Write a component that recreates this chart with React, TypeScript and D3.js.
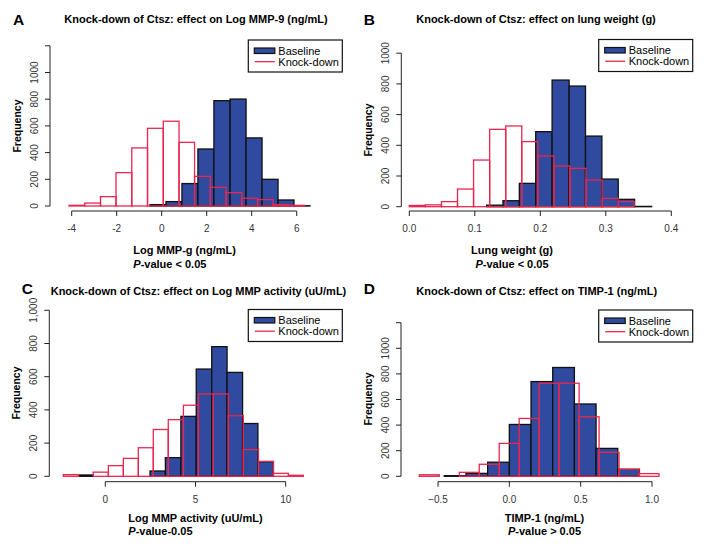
import React from 'react';
import * as d3 from 'd3';

const FONT = "'Liberation Sans', Arial, Helvetica, sans-serif";
const BLUE = '#2f4a9e';
const RED = '#e8264f';

// ---------- Data ----------
const panelLetters = ['A', 'B', 'C', 'D'];
const panelTitles = [
  'Knock-down of Ctsz: effect on Log MMP-9 (ng/mL)',
  'Knock-down of Ctsz: effect on lung weight (g)',
  'Knock-down of Ctsz: effect on Log MMP activity (uU/mL)',
  'Knock-down of Ctsz: effect on TIMP-1 (ng/mL)',
];
const xAxisLabels = ['Log MMP-g (ng/mL)', 'Lung weight (g)', 'Log MMP activity (uU/mL)', 'TIMP-1 (ng/mL)'];
const pValueTexts = ['-value < 0.05', '-value < 0.05', '-value-0.05', '-value > 0.05'];
const legendLabels = ['Baseline', 'Knock-down'];

// Panel A
const aBaseBreaks = [-0.52, 0.19, 0.9, 1.61, 2.32, 3.04, 3.75, 4.46, 5.17, 5.88, 6.59];
const aBaseCounts = [10, 33, 168, 427, 789, 801, 510, 200, 45, 2];
const aKnockBreaks = [-4.12, -3.42, -2.72, -2.03, -1.33, -0.63, 0.07, 0.77, 1.46, 2.16, 2.86, 3.56, 4.26, 4.95, 5.65, 6.35];
const aKnockCounts = [5, 22, 70, 250, 435, 582, 635, 477, 222, 140, 100, 58, 48, 10, 5];
const aXTicks = [-4, -2, 0, 2, 4, 6];
const aXTickLabels = ['-4', '-2', '0', '2', '4', '6'];
const aYTicks = [0, 200, 400, 600, 800, 1000, 1200];
const aYTickLabels = ['0', '200', '400', '600', '800', '1000', ''];

// Panel B
const bBaseBreaks = [0.118, 0.143, 0.168, 0.193, 0.218, 0.244, 0.269, 0.294, 0.319, 0.344, 0.37];
const bBaseCounts = [10, 39, 152, 489, 825, 786, 460, 180, 48, 2];
const bKnockBreaks = [0, 0.0245, 0.0491, 0.0736, 0.0981, 0.1227, 0.1472, 0.1717, 0.1962, 0.2208, 0.2453, 0.2698, 0.2944, 0.3189, 0.3434];
const bKnockCounts = [8, 12, 33, 115, 304, 504, 526, 424, 330, 265, 250, 174, 54, 33];
const bXTicks = [0, 0.1, 0.2, 0.3, 0.4];
const bXTickLabels = ['0.0', '0.1', '0.2', '0.3', '0.4'];
const bYTicks = [0, 200, 400, 600, 800, 1000];
const bYTickLabels = ['0', '200', '400', '600', '800', '1000'];

// Panel C
const cBaseBreaks = [-1.45, -0.67, 2.48, 3.33, 4.19, 5.04, 5.9, 6.75, 7.61, 8.46, 9.32];
const cBaseCounts = [8, 0, 32, 112, 361, 646, 781, 626, 318, 88];
const cKnockBreaks = [-2.33, -1.5, -0.67, 0.17, 1.0, 1.83, 2.66, 3.49, 4.33, 5.16, 5.99, 6.82, 7.65, 8.49, 9.32, 10.15, 10.98];
const cKnockCounts = [10, 0, 25, 64, 108, 172, 282, 341, 428, 496, 496, 365, 161, 90, 18, 6];
const cXTicks = [0, 5, 10];
const cXTickLabels = ['0', '5', '10'];
const cYTicks = [0, 200, 400, 600, 800, 1000];
const cYTickLabels = ['0', '200', '400', '600', '800', '1,000'];

// Panel D
const dBaseBreaks = [-0.456, -0.304, -0.152, 0, 0.152, 0.304, 0.456, 0.608, 0.76, 0.912];
const dBaseCounts = [5, 23, 110, 405, 740, 850, 565, 218, 55];
const dKnockBreaks = [-0.631, -0.491, -0.351, -0.211, -0.071, 0.069, 0.209, 0.349, 0.489, 0.629, 0.769, 0.909, 1.049];
const dKnockCounts = [12, 0, 31, 94, 257, 452, 727, 727, 465, 187, 55, 21];
const dXTicks = [-0.5, 0, 0.5, 1.0];
const dXTickLabels = ['\u22120.5', '0.0', '0.5', '1.0'];
const dYTicks = [0, 200, 400, 600, 800, 1000, 1200];
const dYTickLabels = ['0', '200', '400', '600', '800', '1000', ''];

// ---------- Layout ----------
type Layout = {
  xDomain: [number, number]; xRange: [number, number];
  yDomain: [number, number]; yRange: [number, number];
  xAxisY: number; yAxisX: number;
  letterX: number; letterY: number;
  titleX: number; titleY: number;
  labelX: number; labelAnchor: 'start' | 'middle';
  labelY: number; pY: number;
  freqY: number;
  legX: number; legY: number;
};

const layouts: Layout[] = [
  { xDomain: [-4, 6], xRange: [71.7, 296.7], yDomain: [0, 1200], yRange: [206, 45.8], xAxisY: 211, yAxisX: 50,
    letterX: 13, letterY: 24.5, titleX: 196, titleY: 23, labelX: 133.3, labelAnchor: 'start', labelY: 254, pY: 267.5, freqY: 126,
    legX: 248.3, legY: 40 },
  { xDomain: [0, 0.4], xRange: [409.3, 671.3], yDomain: [0, 1000], yRange: [206.7, 53.2], xAxisY: 211, yAxisX: 401.3,
    letterX: 363.7, letterY: 24.5, titleX: 536, titleY: 23, labelX: 512, labelAnchor: 'middle', labelY: 253.5, pY: 267.5, freqY: 130,
    legX: 598.7, legY: 39.5 },
  { xDomain: [0, 10], xRange: [105.3, 285.7], yDomain: [0, 1000], yRange: [476.3, 310.3], xAxisY: 481.7, yAxisX: 49.3,
    letterX: 21.7, letterY: 293.5, titleX: 198.5, titleY: 295, labelX: 128.3, labelAnchor: 'start', labelY: 521.5, pY: 535, freqY: 393,
    legX: 248.3, legY: 309.5 },
  { xDomain: [-0.5, 1.0], xRange: [438, 652], yDomain: [0, 1200], yRange: [476.3, 322.7], xAxisY: 481.7, yAxisX: 401,
    letterX: 363.7, letterY: 293.5, titleX: 536.7, titleY: 295, labelX: 544.5, labelAnchor: 'middle', labelY: 521.5, pY: 535, freqY: 399,
    legX: 598.7, legY: 310 },
];

const panelData = [
  { baseB: aBaseBreaks, baseC: aBaseCounts, knockB: aKnockBreaks, knockC: aKnockCounts, xt: aXTicks, xtl: aXTickLabels, yt: aYTicks, ytl: aYTickLabels },
  { baseB: bBaseBreaks, baseC: bBaseCounts, knockB: bKnockBreaks, knockC: bKnockCounts, xt: bXTicks, xtl: bXTickLabels, yt: bYTicks, ytl: bYTickLabels },
  { baseB: cBaseBreaks, baseC: cBaseCounts, knockB: cKnockBreaks, knockC: cKnockCounts, xt: cXTicks, xtl: cXTickLabels, yt: cYTicks, ytl: cYTickLabels },
  { baseB: dBaseBreaks, baseC: dBaseCounts, knockB: dKnockBreaks, knockC: dKnockCounts, xt: dXTicks, xtl: dXTickLabels, yt: dYTicks, ytl: dYTickLabels },
];

function Bars({ breaks, counts, x, y, fill, stroke }: any) {
  return (
    <g>
      {counts.map((c: number, i: number) =>
        c > 0 ? (
          <rect key={i} x={x(breaks[i])} width={x(breaks[i + 1]) - x(breaks[i])} y={y(c)} height={y(0) - y(c)}
            fill={fill} stroke={stroke} strokeWidth={1.3} />
        ) : null
      )}
    </g>
  );
}

function Panel({ idx }: { idx: number }) {
  const L = layouts[idx];
  const D = panelData[idx];
  const x = d3.scaleLinear().domain(L.xDomain).range(L.xRange);
  const y = d3.scaleLinear().domain(L.yDomain).range(L.yRange);
  const axisColor = '#222';
  const tickLen = 5;
  const yTop = y(D.yt[D.yt.length - 1]);
  return (
    <g fontFamily={FONT}>
      <text x={L.letterX} y={L.letterY} fontSize={15.5} fontWeight="bold" fill="#000">{panelLetters[idx]}</text>
      <text x={L.titleX} y={L.titleY} fontSize={11} fontWeight="bold" textAnchor="middle" fill="#000">{panelTitles[idx]}</text>

      <Bars breaks={D.baseB} counts={D.baseC} x={x} y={y} fill={BLUE} stroke="#111" />
      <Bars breaks={D.knockB} counts={D.knockC} x={x} y={y} fill="none" stroke={RED} />

      {/* x axis */}
      <line x1={x(D.xt[0])} x2={x(D.xt[D.xt.length - 1])} y1={L.xAxisY} y2={L.xAxisY} stroke={axisColor} strokeWidth={1} />
      {D.xt.map((t: number, i: number) => (
        <g key={i}>
          <line x1={x(t)} x2={x(t)} y1={L.xAxisY} y2={L.xAxisY + tickLen} stroke={axisColor} strokeWidth={1} />
          <text x={x(t)} y={L.xAxisY + 21} fontSize={10} textAnchor="middle" fill="#333">{D.xtl[i]}</text>
        </g>
      ))}

      {/* y axis */}
      <line x1={L.yAxisX} x2={L.yAxisX} y1={y(0)} y2={yTop} stroke={axisColor} strokeWidth={1} />
      {D.yt.map((t: number, i: number) => (
        <g key={i}>
          <line x1={L.yAxisX - tickLen} x2={L.yAxisX} y1={y(t)} y2={y(t)} stroke={axisColor} strokeWidth={1} />
          {D.ytl[i] ? (
            <text transform={`translate(${L.yAxisX - 12},${y(t)}) rotate(-90)`} fontSize={10} textAnchor="middle" fill="#333">{D.ytl[i]}</text>
          ) : null}
        </g>
      ))}
      <text transform={`translate(${L.yAxisX - 29},${L.freqY}) rotate(-90)`} fontSize={10.5} fontWeight="bold" textAnchor="middle" fill="#000">Frequency</text>

      {/* x label & p-value */}
      <text x={L.labelX} y={L.labelY} fontSize={11} fontWeight="bold" textAnchor={L.labelAnchor} fill="#000">{xAxisLabels[idx]}</text>
      <text x={L.labelX} y={L.pY} fontSize={11} fontWeight="bold" textAnchor={L.labelAnchor} fill="#000">
        <tspan fontStyle="italic">P</tspan>{pValueTexts[idx]}
      </text>

      {/* legend */}
      <rect x={L.legX} y={L.legY} width={94} height={32} fill="#fff" stroke="#111" strokeWidth={1.2} />
      <rect x={L.legX + 6} y={L.legY + 8} width={20.5} height={5.5} fill={BLUE} stroke="#111" strokeWidth={1.2} />
      <text x={L.legX + 30} y={L.legY + 14.7} fontSize={11} fill="#000">{legendLabels[0]}</text>
      <line x1={L.legX + 6.5} x2={L.legX + 26.5} y1={L.legY + 21.7} y2={L.legY + 21.7} stroke={RED} strokeWidth={1.3} />
      <text x={L.legX + 30} y={L.legY + 25.7} fontSize={11} fill="#000">{legendLabels[1]}</text>
    </g>
  );
}

export default function App() {
  return (
    <svg width={705} height={547} style={{ position: 'absolute', left: 0, top: 0, background: '#fff' }}>
      <rect x={0} y={0} width={705} height={547} fill="#fff" />
      {[0, 1, 2, 3].map((i) => <Panel key={i} idx={i} />)}
    </svg>
  );
}
